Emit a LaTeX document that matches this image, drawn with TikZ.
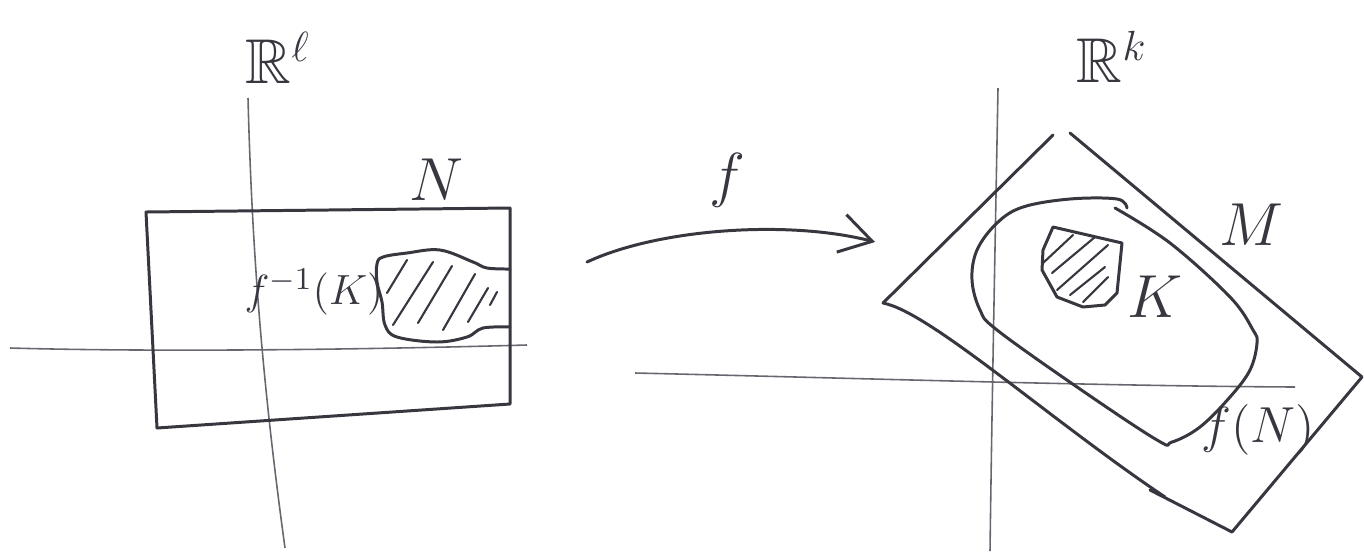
\documentclass[tikz,border=0pt]{standalone}
\usepackage{amssymb}
\usetikzlibrary{arrows.meta}
\definecolor{ink}{HTML}{3A3640}
\definecolor{axisink}{HTML}{6A6670}
\tikzset{
  stroke/.style={draw=ink, line width=0.85pt, line cap=round, line join=round},
  axisline/.style={draw=axisink, line width=0.45pt},
  hatchline/.style={draw=ink, line width=0.6pt, line cap=round},
  lbl/.style={text=ink, inner sep=0pt, font=\fontsize{18}{20}\selectfont},
  smalllbl/.style={text=ink, inner sep=0pt, font=\fontsize{12.5}{14}\selectfont},
  midlbl/.style={text=ink, inner sep=0pt, font=\fontsize{15}{17}\selectfont},
}
\begin{document}
\begin{tikzpicture}[x=0.01cm, y=-0.01cm]
\path[use as bounding box, fill=white] (0,0) rectangle (1364,551);

% ---------- left picture ----------
\draw[axisline] (248,98) .. controls (252,250) and (262,380) .. (285,548);
\draw[axisline] (10,348) .. controls (150,352) and (350,350) .. (527,345);
\draw[stroke] (146,212) -- (510,208) -- (510,404) -- (157,428) -- cycle;
\draw[stroke] plot[smooth, tension=0.6] coordinates {
  (510,269) (487,268) (473,262) (440,250) (407,253) (383,257) (377,264)
  (377,282) (382,302) (385,325) (397,337) (437,342) (467,337) (483,328) (510,327)};
\draw[hatchline] (387,293) -- (407,260);
\draw[hatchline] (393,325) -- (433,262);
\draw[hatchline] (418,323) -- (452,266);
\draw[hatchline] (443,330) -- (475,274);
\draw[hatchline] (468,322) -- (488,288);
\draw[hatchline] (490,305) -- (497,292);
\node[lbl] (Rl) at (278,58) {$\mathbb{R}^{\ell}$};
\node[lbl] (N) at (436,180) {$N$};
\node[smalllbl] (fK) at (314,292) {$f^{-1}(K)$};

% ---------- arrow ----------
\coordinate (as) at (587,262);
\coordinate (ae) at (875,242);
\draw[stroke, -{Straight Barb[length=9pt, width=11pt, line width=0.85pt]}]
  (as) .. controls (660,228) and (790,220) .. (ae);
\node[lbl] (f) at (727,180) {$f$};

% ---------- right picture ----------
\draw[axisline] (998,88) .. controls (995,250) and (992,400) .. (990,551);
\draw[axisline] (635,373) .. controls (850,378) and (1100,386) .. (1295,387);
\draw[stroke] (1053,135) -- (883,303) .. controls (930,312) and (1050,420) .. (1165,497);
\draw[stroke] (1150,490) -- (1232,532) -- (1362,377) -- (1070,133);
\draw[stroke] plot[smooth, tension=0.6] coordinates {
  (1127,208) (1117,199) (1070,199) (1023,207) (997,223) (977,250) (972,280)
  (980,310) (997,330) (1077,387) (1157,440) (1172,442) (1200,427) (1230,397)
  (1250,370) (1257,343) (1253,330) (1230,297) (1170,243) (1115,208)};
\draw[stroke] (1053,227) -- (1122,243) -- (1117,293) -- (1105,305) -- (1083,307)
  -- (1057,297) -- (1042,270) -- (1043,250) -- cycle;
\draw[hatchline] (1043,263) -- (1073,235);
\draw[hatchline] (1052,273) -- (1095,237);
\draw[hatchline] (1057,290) -- (1108,245);
\draw[hatchline] (1070,295) -- (1105,267);
\draw[hatchline] (1083,302) -- (1108,277);
\node[lbl] (Rk) at (1112,57) {$\mathbb{R}^{k}$};
\node[lbl] (M) at (1251,225) {$M$};
\node[lbl] (K) at (1155,297) {$K$};
\node[midlbl] (fN) at (1258,430) {$f(N)$};
\end{tikzpicture}
\end{document}
